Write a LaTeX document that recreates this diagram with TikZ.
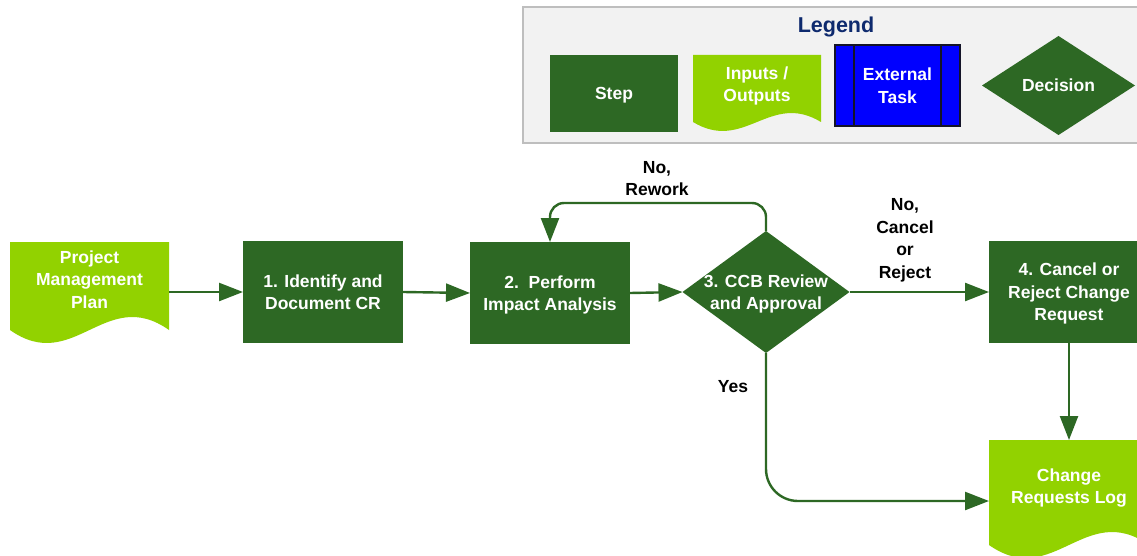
\documentclass[tikz,border=0pt]{standalone}
\usepackage{fontspec}
\setmainfont{Liberation Sans}
\usetikzlibrary{shapes.geometric,arrows.meta,calc,backgrounds}

\definecolor{stepgreen}{RGB}{45,104,36}
\definecolor{iogreen}{RGB}{146,210,0}
\definecolor{legendbg}{RGB}{242,242,242}
\definecolor{legendrule}{RGB}{190,190,190}
\definecolor{legendtitle}{RGB}{14,42,110}
\definecolor{extblue}{RGB}{0,0,255}
\definecolor{extrule}{RGB}{20,20,40}

\newcommand\flowfont{\fontsize{17.5}{22.5}\selectfont\bfseries}
% centred multi-line text that takes no room of its own
\newcommand\zerobox[1]{\raisebox{-0.355em}[0pt][0pt]{\makebox[0pt]{\begin{tabular}{@{}c@{}}#1\end{tabular}}}}
% document shape: wavy lower edge below a text node
\newcommand\wavefill[3]{%
  \fill[iogreen] (#1.north west) -- (#1.north east) -- ($(#1.south east)+(0,#2)$)
    .. controls ($(#1.south east)!0.4!(#1.south west)+(0,#2-#3)$)
            and ($(#1.south east)!0.6!(#1.south west)+(0,#2+#3)$)
    .. ($(#1.south west)+(0,#2)$) -- cycle;}

\begin{document}
\begin{tikzpicture}[x=1pt,y=-1pt,
  every node/.style={inner sep=0pt, outer sep=0pt, font=\flowfont, text=white},
  stepbox/.style={rectangle, fill=stepgreen, minimum width=160pt, minimum height=102pt},
  iobox/.style={rectangle},
  decbox/.style={diamond, fill=stepgreen},
  extbox/.style={rectangle, fill=extblue, draw=extrule, line width=1.2pt},
  legendpanel/.style={rectangle, fill=legendbg, draw=legendrule, line width=1.2pt},
  flowlabel/.style={text=black},
  flow/.style={draw=stepgreen, line width=2.4pt, -{Triangle[length=24pt,width=18pt]}},
]
\useasboundingbox (0,0) rectangle (1137,556);
\clip (0,0) rectangle (1137,556);

% legend entries
\node[text=legendtitle, font=\fontsize{21.5}{26}\selectfont\bfseries] (legendhead) at (836,27) {Legend};
\node[stepbox, minimum width=128pt, minimum height=77pt] (lstep) at (614,93.5) {\zerobox{Step}};
\node[iobox, minimum width=128pt, minimum height=58pt] (lio) at (757,84) {\zerobox{Inputs /\\Outputs}};
\node[extbox, minimum width=125pt, minimum height=81pt] (lext) at (897.5,85.5) {\zerobox{External\\Task}};
\draw[extrule, line width=1.2pt] ($(lext.north)+(-43.5,0)$) -- ($(lext.south)+(-43.5,0)$);
\draw[extrule, line width=1.2pt] ($(lext.north)+(43.5,0)$) -- ($(lext.south)+(43.5,0)$);
\node[decbox, minimum width=153pt, minimum height=99pt] (ldec) at (1058.5,85.5) {\zerobox{Decision}};

% process
\node[iobox, minimum width=159pt, minimum height=75pt] (pmp) at (89.5,279.5) {\zerobox{Project\\Management\\Plan}};
\node[stepbox] (s1) at (323,292) {\zerobox{1. Identify and\\Document CR}};
\node[stepbox] (s2) at (550,293) {\zerobox{2.~~Perform\\Impact Analysis}};
\node[decbox, minimum width=167pt, minimum height=122pt] (ccb) at (766,292) {\zerobox{3. CCB Review\\and Approval}};
\node[stepbox] (s4) at (1069,292) {\zerobox{4. Cancel or\\Reject Change\\Request}};
\node[iobox, minimum width=160pt, minimum height=92pt] (crl) at (1069,486) {\zerobox{Change\\Requests Log}};

% connectors
\coordinate (rework) at (550,203);
\draw[flow] (pmp.east |- s1.west) -- (s1.west);
\draw[flow] (s1.east) -- (s2.west);
\draw[flow] (s2.east) -- (ccb.west);
\draw[flow, rounded corners=14pt] (ccb.north) |- (rework) -- (s2.north);
\draw[flow] (ccb.east) -- (s4.west);
\draw[flow] (s4.south) -- (crl.north);
\draw[flow, rounded corners=32pt] (ccb.south) |- ($(crl.west)+(0,15)$);

% branch labels
\node[flowlabel] (lblrework) at (657,178) {\zerobox{No,\\Rework}};
\node[flowlabel] (lblcancel) at (905,238) {\zerobox{No,\\Cancel\\or\\Reject}};
\node[flowlabel] (lblyes) at (733,386) {\zerobox{Yes}};

\begin{scope}[on background layer]
  \fill[white] (0,0) rectangle (1137,556);
  \node[legendpanel, minimum width=622pt, minimum height=136pt] (legend) at (834,75) {};
  \wavefill{lio}{9}{31}
  \wavefill{pmp}{13}{45}
  \wavefill{crl}{13}{45}
\end{scope}
\end{tikzpicture}
\end{document}
